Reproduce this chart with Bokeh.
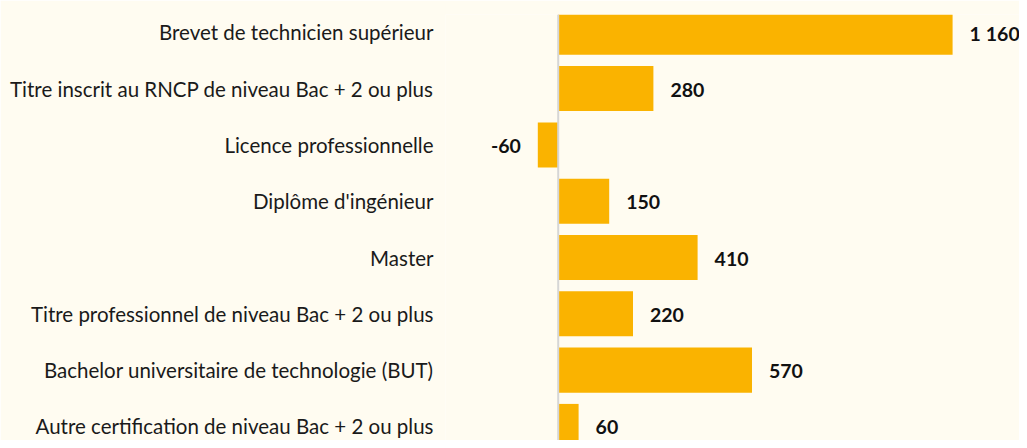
from bokeh.plotting import figure
from bokeh.models import ColumnDataSource, Range1d, FixedTicker, Span
from bokeh.core.properties import value
from bokeh.embed import file_html
from bokeh.resources import INLINE

categories = [
    "Brevet de technicien supérieur",
    "Titre inscrit au RNCP de niveau Bac + 2 ou plus",
    "Licence professionnelle",
    "Diplôme d'ingénieur",
    "Master",
    "Titre professionnel de niveau Bac + 2 ou plus",
    "Bachelor universitaire de technologie (BUT)",
    "Autre certification de niveau Bac + 2 ou plus",
]
values = [1160, 280, -60, 150, 410, 220, 570, 60]

BG = "#FFFCF1"
BAR = "#FAB300"

def fmt(v):
    s = f"{abs(v):,}".replace(",", "\u202f")
    return ("-" if v < 0 else "") + s

idx = list(range(len(categories)))
src = ColumnDataSource(dict(
    y=idx,
    v=values,
    lbl=[fmt(v) for v in values],
    align=["left" if v >= 0 else "right" for v in values],
    xoff=[17 if v >= 0 else -17 for v in values],
))

p = figure(width=1019, height=440, output_backend="svg", toolbar_location=None,
           x_range=Range1d(-331.5, 1356.8), y_range=Range1d(7.25, -0.316),
           min_border_left=445, min_border_right=0, min_border_top=14, min_border_bottom=0)
p.background_fill_color = BG
p.border_fill_color = BG
p.outline_line_color = None
p.grid.visible = False
p.xaxis.visible = False

p.hbar(y="y", right="v", left=0, height=0.8, source=src, fill_color=BAR, line_color=None)
p.add_layout(Span(location=0, dimension="height", line_color="#D6D6D6", line_width=2))

p.text(x="v", y="y", text="lbl", source=src, x_offset="xoff", y_offset=1,
       text_align="align", text_baseline="middle",
       text_font=value("Lato"), text_font_style="bold", text_font_size="19.5px",
       text_color="#111111")

ya = p.yaxis[0]
ya.ticker = FixedTicker(ticks=idx)
ya.major_label_overrides = {i: c for i, c in enumerate(categories)}
ya.axis_line_color = None
ya.major_tick_line_color = None
ya.minor_tick_line_color = None
ya.major_tick_out = 0
ya.major_tick_in = 0
ya.major_label_standoff = 12
ya.major_label_text_font = "Lato"
ya.major_label_text_font_size = "20.5px"
ya.major_label_text_color = "#1A1A1A"

open("out.html", "w").write(file_html(p, INLINE))
